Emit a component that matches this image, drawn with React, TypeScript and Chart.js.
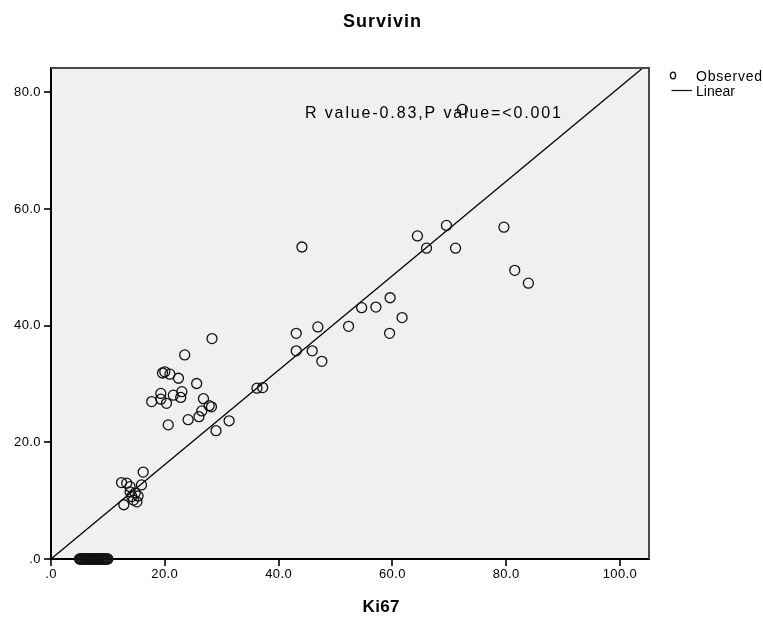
import React, { useEffect, useRef } from "react";
import { Chart, registerables } from "chart.js";

Chart.register(...registerables);

// ---- data ----
const observedX = [
  72.3, 44.1, 64.4, 69.5, 79.6, 66.0, 71.1, 81.5, 83.9, 59.6, 54.6, 57.1, 61.7, 52.3, 46.9, 43.1, 59.5, 43.1, 45.9, 47.6, 36.2, 37.2,
  28.3, 23.5, 19.6, 20.0, 20.9, 22.4, 25.6, 19.3, 19.3, 17.7, 20.3, 21.5, 23.0, 22.8, 26.8, 27.8, 28.2, 26.5, 26.0, 24.1, 20.6, 31.3, 29.0,
  16.2, 12.4, 13.3, 13.9, 15.9, 13.9, 14.8, 14.2, 14.5, 15.3, 12.8, 15.1,
  5.0, 5.2, 5.3, 5.5, 5.7, 5.9, 6.0, 6.2, 6.4, 6.6, 6.8, 6.9, 7.1, 7.3, 7.5, 7.6, 7.8, 8.0, 8.2, 8.4, 8.5, 8.7, 8.9, 9.1, 9.3, 9.4, 9.6, 9.8, 10.0,
];
const observedY = [
  77.1, 53.5, 55.4, 57.2, 56.9, 53.3, 53.3, 49.5, 47.3, 44.8, 43.1, 43.2, 41.4, 39.9, 39.8, 38.7, 38.7, 35.7, 35.7, 33.9, 29.3, 29.4,
  37.8, 35.0, 31.9, 32.1, 31.7, 31.0, 30.1, 28.4, 27.4, 27.0, 26.7, 28.1, 28.7, 27.7, 27.5, 26.3, 26.1, 25.4, 24.4, 23.9, 23.0, 23.7, 22.0,
  14.9, 13.1, 13.0, 12.4, 12.7, 11.5, 11.3, 10.7, 10.1, 10.8, 9.3, 9.8,
  0, 0, 0, 0, 0, 0, 0, 0, 0, 0, 0, 0, 0, 0, 0, 0, 0, 0, 0, 0, 0, 0, 0, 0, 0, 0, 0, 0, 0,
];
const fitX = [0, 104];
const fitY = [0, 84.2];
const xTicks = [0, 20, 40, 60, 80, 100];
const yTicks = [0, 20, 40, 60, 80];
const xRange = [0, 105.1];
const yRange = [0, 84.2];
const titleText = "Survivin";
const xTitleText = "Ki67";
const statText = "R value-0.83,P value=<0.001";
const legendLabels = ["Observed", "Linear"];

const FONT = '"Liberation Sans", Arial, Helvetica, sans-serif';

function fmt(v: number): string {
  return v === 0 ? ".0" : Number(v).toFixed(1);
}

function spacedText(
  ctx: CanvasRenderingContext2D,
  text: string,
  x: number,
  y: number,
  font: string,
  width: number | null,
  align: "left" | "center" | "right"
) {
  ctx.save();
  ctx.font = font;
  (ctx as any).letterSpacing = "0px";
  const w = ctx.measureText(text).width;
  const n = text.length;
  let ls = width != null && n > 1 ? (width - w) / (n - 1) : 0;
  if (ls < 0) ls = 0;
  (ctx as any).letterSpacing = ls + "px";
  const total = w + (n - 1) * ls;
  let sx = x;
  if (align === "center") sx = x - total / 2;
  else if (align === "right") sx = x - total;
  ctx.textAlign = "left";
  ctx.textBaseline = "alphabetic";
  ctx.fillStyle = "#000";
  ctx.fillText(text, sx, y);
  ctx.restore();
}

const framePlugin = {
  id: "spssFrame",
  beforeDraw(chart: any) {
    const { ctx, chartArea: a } = chart;
    ctx.save();
    ctx.fillStyle = "#f0f0f0";
    ctx.fillRect(a.left, a.top, a.right - a.left, a.bottom - a.top);
    ctx.restore();
    (ctx as any).letterSpacing = "0.4px";
  },
  afterDraw(chart: any) {
    const { ctx, chartArea: a } = chart;
    (ctx as any).letterSpacing = "0px";
    // top and right frame edges
    ctx.save();
    ctx.strokeStyle = "#4a4a4a";
    ctx.lineWidth = 2;
    ctx.beginPath();
    ctx.moveTo(a.left, a.top);
    ctx.lineTo(a.right, a.top);
    ctx.lineTo(a.right, a.bottom);
    ctx.stroke();
    ctx.restore();

    // title, axis title, annotation
    spacedText(ctx, titleText, 382, 27, `bold 18px ${FONT}`, 78, "center");
    spacedText(ctx, xTitleText, 381, 612, `bold 17px ${FONT}`, 37, "center");
    spacedText(ctx, statText, 305, 118, `16px ${FONT}`, 256, "left");

    // legend
    ctx.save();
    ctx.strokeStyle = "#111";
    ctx.lineWidth = 1.3;
    ctx.beginPath();
    ctx.ellipse(673, 75.5, 2.6, 3.3, 0, 0, Math.PI * 2);
    ctx.stroke();
    ctx.beginPath();
    ctx.lineWidth = 1.2;
    ctx.moveTo(671.5, 90.5);
    ctx.lineTo(692, 90.5);
    ctx.stroke();
    ctx.restore();
    spacedText(ctx, legendLabels[0], 696, 81, `14px ${FONT}`, 66, "left");
    spacedText(ctx, legendLabels[1], 696, 96, `14px ${FONT}`, 39, "left");
  },
};

export default function App() {
  const ref = useRef<HTMLCanvasElement | null>(null);

  useEffect(() => {
    if (!ref.current) return;
    const tickFont = { family: FONT, size: 13 };
    const chart = new Chart(ref.current, {
      type: "scatter",
      data: {
        datasets: [
          {
            type: "scatter",
            label: legendLabels[0],
            data: observedX.map((x, i) => ({ x, y: observedY[i] })),
            pointRadius: 5,
            pointHoverRadius: 5,
            pointBorderWidth: 1.3,
            borderColor: "#111",
            backgroundColor: "rgba(0,0,0,0)",
            pointBackgroundColor: "rgba(0,0,0,0)",
            clip: false,
            order: 1,
          } as any,
          {
            type: "line",
            label: legendLabels[1],
            data: fitX.map((x, i) => ({ x, y: fitY[i] })),
            borderColor: "#000",
            borderWidth: 1.3,
            pointRadius: 0,
            fill: false,
            tension: 0,
            clip: false,
            order: 2,
          } as any,
        ],
      },
      options: {
        responsive: false,
        animation: false,
        devicePixelRatio: 1,
        events: [],
        layout: { padding: { left: 0, top: 68, right: 114, bottom: 0 } },
        plugins: {
          legend: { display: false },
          title: { display: false },
          tooltip: { enabled: false },
        },
        scales: {
          x: {
            type: "linear",
            min: xRange[0],
            max: xRange[1],
            afterFit(s: any) {
              s.height = 64;
            },
            afterBuildTicks(s: any) {
              s.ticks = xTicks.map((v) => ({ value: v }));
            },
            grid: { drawOnChartArea: false, drawTicks: true, tickLength: 7, color: "#333", lineWidth: 2 },
            border: { display: true, color: "#000", width: 2 },
            ticks: { callback: (v: any) => fmt(Number(v)), color: "#000", font: tickFont, padding: 1, maxRotation: 0, autoSkip: false },
          },
          y: {
            type: "linear",
            min: yRange[0],
            max: yRange[1],
            afterFit(s: any) {
              s.width = 51;
            },
            afterBuildTicks(s: any) {
              s.ticks = yTicks.map((v) => ({ value: v }));
            },
            grid: { drawOnChartArea: false, drawTicks: true, tickLength: 7, color: "#333", lineWidth: 2 },
            border: { display: true, color: "#000", width: 2 },
            ticks: { callback: (v: any) => fmt(Number(v)), color: "#000", font: tickFont, padding: 3, autoSkip: false },
          },
        },
      } as any,
      plugins: [framePlugin],
    });
    return () => chart.destroy();
  }, []);

  return (
    <div style={{ position: "absolute", left: 0, top: 0, width: 763, height: 623, background: "#fff" }}>
      <canvas ref={ref} width={763} height={623} style={{ display: "block" }} />
    </div>
  );
}
